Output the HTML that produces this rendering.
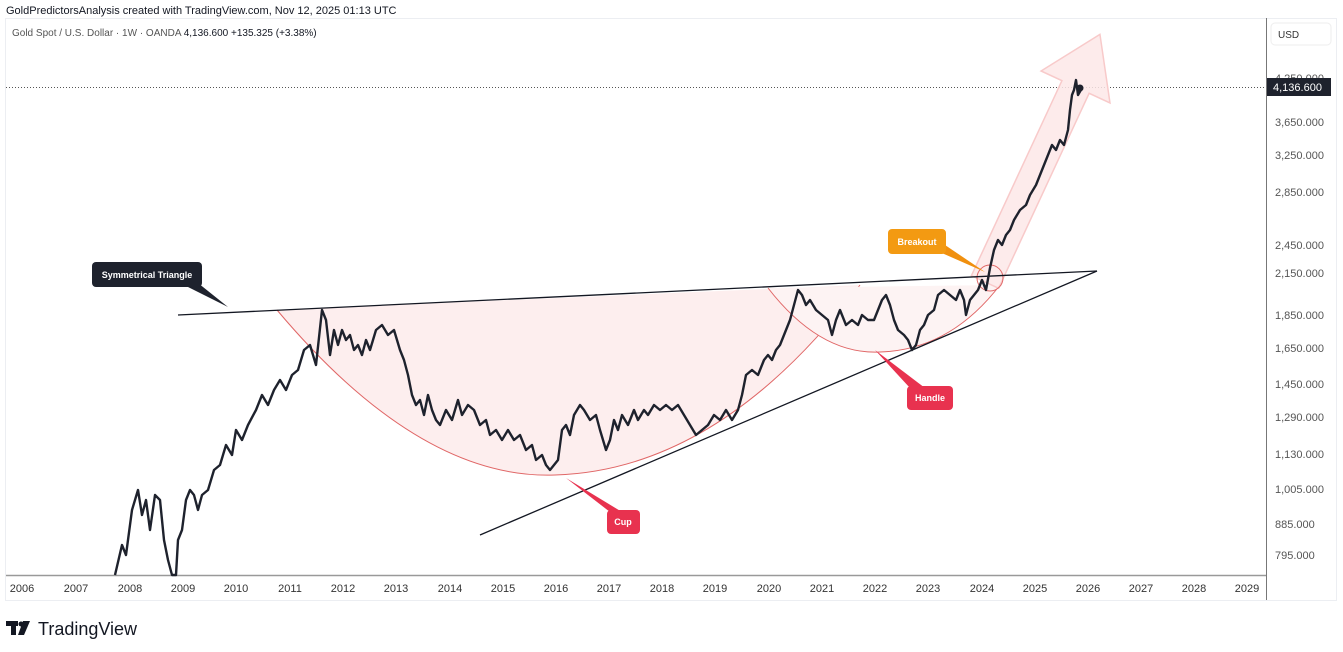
<!DOCTYPE html>
<html><head><meta charset="utf-8"><style>
body{margin:0;width:1343px;height:647px;background:#fff;overflow:hidden;font-family:"Liberation Sans",sans-serif}
</style></head><body>
<svg width="1343" height="647" xmlns="http://www.w3.org/2000/svg" font-family="Liberation Sans, sans-serif">
<text x="6" y="14" font-size="11" fill="#131722">GoldPredictorsAnalysis created with TradingView.com, Nov 12, 2025 01:13 UTC</text>
<rect x="5.5" y="18.5" width="1331" height="582" fill="none" stroke="#eceef2"/>
<text x="12" y="36" font-size="10" fill="#555">Gold Spot / U.S. Dollar · 1W · OANDA  <tspan fill="#131722">4,136.600</tspan>  <tspan fill="#131722">+135.325 (+3.38%)</tspan></text>
<line x1="6" y1="575.5" x2="1266" y2="575.5" stroke="#999" stroke-width="1.5"/>
<line x1="1266.5" y1="18" x2="1266.5" y2="600" stroke="#777"/>
<rect x="1271" y="23" width="60" height="22" rx="4" fill="#fff" stroke="#eee"/>
<text x="1278" y="38" font-size="10" fill="#333">USD</text>
<line x1="6" y1="87.5" x2="1266" y2="87.5" stroke="#555" stroke-dasharray="1,2"/>
<g font-size="11" fill="#555">
<text x="1275" y="82">4,250.000</text>
<text x="1275" y="126">3,650.000</text><text x="1275" y="159">3,250.000</text><text x="1275" y="196">2,850.000</text>
<text x="1275" y="249">2,450.000</text><text x="1275" y="277">2,150.000</text><text x="1275" y="319">1,850.000</text>
<text x="1275" y="352">1,650.000</text><text x="1275" y="388">1,450.000</text><text x="1275" y="421">1,290.000</text>
<text x="1275" y="458">1,130.000</text><text x="1275" y="493">1,005.000</text><text x="1275" y="528">885.000</text>
<text x="1275" y="559">795.000</text>
</g>
<rect x="1267" y="78" width="64" height="18" fill="#1e222d"/>
<text x="1273" y="91" font-size="11" fill="#fff">4,136.600</text>
<g font-size="11" fill="#333" text-anchor="middle">
<text x="22" y="592">2006</text><text x="76" y="592">2007</text><text x="130" y="592">2008</text><text x="183" y="592">2009</text><text x="236" y="592">2010</text><text x="290" y="592">2011</text><text x="343" y="592">2012</text><text x="396" y="592">2013</text><text x="450" y="592">2014</text><text x="503" y="592">2015</text><text x="556" y="592">2016</text><text x="609" y="592">2017</text><text x="662" y="592">2018</text><text x="715" y="592">2019</text><text x="769" y="592">2020</text><text x="822" y="592">2021</text><text x="875" y="592">2022</text><text x="928" y="592">2023</text><text x="982" y="592">2024</text><text x="1035" y="592">2025</text><text x="1088" y="592">2026</text><text x="1141" y="592">2027</text><text x="1194" y="592">2028</text><text x="1247" y="592">2029</text>
</g>
<path d="M277,310 Q420,480 555,475 Q720,470 860,285 Z" fill="#fdeeee" stroke="none"/>
<path d="M277,310 Q420,480 555,475 Q720,470 860,285" fill="none" stroke="#e06666" stroke-width="1"/>
<path d="M768,288 Q820,355 880,352 Q950,350 1000,285" fill="#fdf3f3" stroke="#e06666" stroke-width="1"/>
<g transform="translate(985,282) rotate(-65.1)">
<polygon points="0,-15 215,-15 215,-38 273,0 215,38 215,15 0,15" fill="#fde8e8" fill-opacity="0.85" stroke="#f8caca" stroke-width="1.5"/>
</g>
<circle cx="990" cy="278" r="13" fill="none" stroke="#e06666"/>
<line x1="178" y1="315" x2="1097" y2="271" stroke="#131722" stroke-width="1.3"/>
<line x1="480" y1="535" x2="1097" y2="271" stroke="#131722" stroke-width="1.3"/>
<polyline fill="none" stroke="#1e222d" stroke-width="2.4" stroke-linejoin="round" points="115,575 122,545 126,555 132,510 138,490 142,515 146,500 150,530 155,495 160,500 164,540 168,560 172,575 176,575 178,540 182,530 186,500 190,490 194,495 198,510 202,495 208,490 214,470 220,465 226,445 232,455 236,430 242,440 248,425 256,410 262,395 268,405 274,390 280,380 286,390 292,375 298,370 304,350 310,345 316,365 322,310 326,320 330,355 334,330 338,345 342,330 346,340 350,335 354,350 358,345 362,355 366,340 370,350 376,330 382,325 388,335 394,330 400,350 404,360 408,375 412,395 416,405 420,400 424,415 428,395 432,410 436,420 440,425 446,410 452,420 458,400 462,415 468,405 474,410 480,425 486,420 490,435 496,430 502,440 508,430 514,440 520,435 526,450 532,445 536,460 542,455 546,465 550,470 554,465 558,460 562,430 566,425 570,435 574,415 580,405 584,410 590,420 596,415 600,430 606,450 610,440 614,420 618,430 622,415 628,425 634,410 638,420 644,410 648,415 654,405 660,410 666,405 672,410 678,405 684,415 690,425 696,435 702,430 708,425 714,415 720,420 726,410 732,420 738,410 742,395 746,375 752,370 758,375 764,360 768,355 772,360 776,350 780,345 784,335 790,320 794,305 798,290 802,295 806,305 810,300 816,310 822,315 828,320 832,335 836,320 840,310 846,325 852,320 858,325 862,315 868,320 874,320 878,310 882,300 886,295 890,305 894,320 898,330 904,335 908,340 912,350 916,345 920,330 924,325 928,315 934,310 938,295 944,290 950,295 956,300 960,290 964,300 966,315 970,300 974,295 978,290 982,280 986,290 990,268 994,250 998,240 1002,245 1006,235 1010,230 1014,220 1020,210 1026,205 1030,195 1036,185 1040,175 1044,165 1048,155 1052,145 1056,150 1060,140 1064,145 1068,130 1070,110 1072,95 1074,90 1076,80 1078,95 1082,88"/>
<circle cx="1080" cy="88" r="3.5" fill="#1e222d"/>
<polygon points="180,283 198,283 228,307" fill="#1e222d"/>
<rect x="92" y="262" width="110" height="25" rx="4" fill="#1e222d"/>
<text x="147" y="278" font-size="9" font-weight="bold" fill="#fff" text-anchor="middle">Symmetrical Triangle</text>
<polygon points="935,250 945,245 985,272" fill="#f0900f"/>
<rect x="888" y="229" width="58" height="25" rx="4" fill="#f39a12"/>
<text x="917" y="245" font-size="9" font-weight="bold" fill="#fff" text-anchor="middle">Breakout</text>
<polygon points="910,388 925,388 875,350" fill="#e8324f"/>
<rect x="907" y="386" width="46" height="24" rx="4" fill="#e8324f"/>
<text x="930" y="401" font-size="9" font-weight="bold" fill="#fff" text-anchor="middle">Handle</text>
<polygon points="610,512 622,512 566,478" fill="#e8324f"/>
<rect x="607" y="510" width="33" height="24" rx="4" fill="#e8324f"/>
<text x="623" y="525" font-size="9" font-weight="bold" fill="#fff" text-anchor="middle">Cup</text>
<rect x="6" y="621" width="12" height="5" fill="#131722"/><rect x="11" y="621" width="5" height="14" fill="#131722"/>
<circle cx="21" cy="624" r="2.5" fill="#131722"/><polygon points="23,621 30,621 24,635 18,635" fill="#131722"/>
<text x="38" y="635" font-size="18" fill="#131722">TradingView</text>
</svg>
</body></html>
